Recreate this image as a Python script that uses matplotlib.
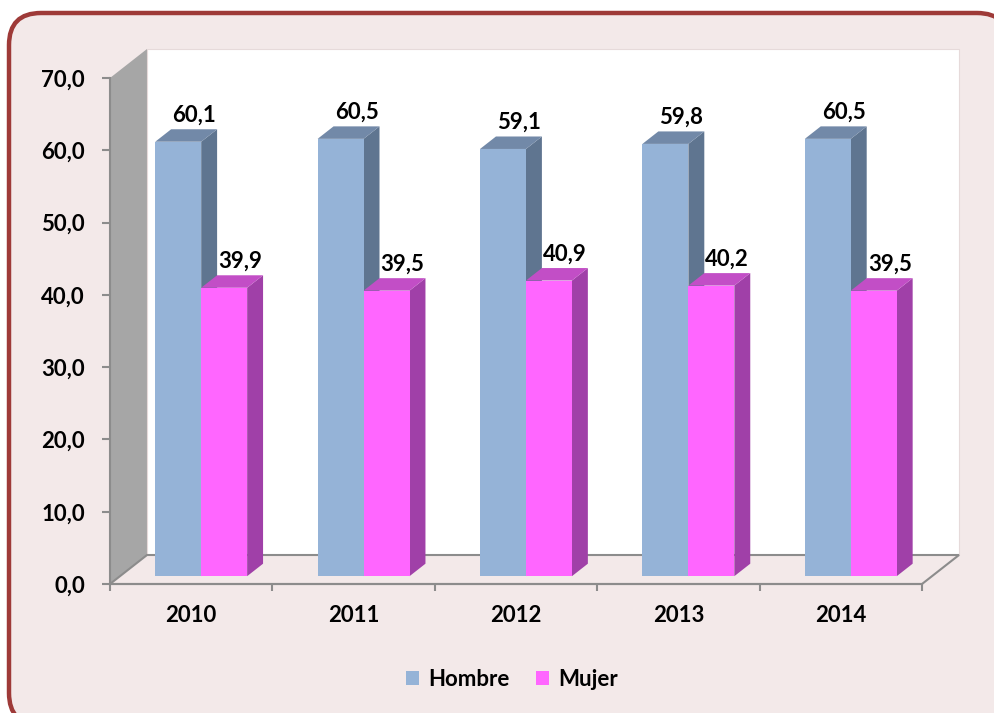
import matplotlib.pyplot as plt
from matplotlib.patches import Polygon, Rectangle, FancyBboxPatch, Patch
from matplotlib.ticker import FuncFormatter

years = ["2010", "2011", "2012", "2013", "2014"]
hombre = [60.1, 60.5, 59.1, 59.8, 60.5]
mujer = [39.9, 39.5, 40.9, 40.2, 39.5]
series_names = ["Hombre", "Mujer"]

plt.rcParams["font.family"] = ["Lato", "DejaVu Sans"]
plt.rcParams["font.weight"] = "bold"

bg = "#F3E9E9"
edge = "#8C8C8C"
front_cols = ["#95B3D7", "#FF66FF"]
side_cols = ["#5F7590", "#A040A8"]
top_cols = ["#7289A8", "#C24EC6"]

fig = plt.figure(figsize=(9.95, 7.13), dpi=100)
fig.patch.set_facecolor("white")

# rounded outer frame (pixel coords, runs off the right and bottom edges)
frame = FancyBboxPatch((9, -12), 1000, 713 - 13 + 12,
                       boxstyle="round,pad=0,rounding_size=32",
                       transform=None, facecolor=bg,
                       edgecolor="#9E3A38", linewidth=3.2, zorder=0)
fig.add_artist(frame)

ax = fig.add_axes([110 / 995, (713 - 584) / 713, 812 / 995, 506 / 713])
ax.set_facecolor("none")
ax.set_xlim(-0.5, 4.5)
ax.set_ylim(0, 70)

# depth offsets (fraction of one category / value units)
Dx = 37 / 162.4
Dy = 29 / (506 / 70)
x0, x1 = -0.5, 4.5

# side wall, back wall, floor
ax.add_patch(Polygon([(x0, 0), (x0, 70), (x0 + Dx, 70 + Dy), (x0 + Dx, Dy)],
                     closed=True, facecolor="#A6A6A6", edgecolor="none",
                     clip_on=False, zorder=1))
ax.add_patch(Rectangle((x0 + Dx, Dy), x1 - x0, 70, facecolor="white",
                       edgecolor="#E6DADA", linewidth=0.8, clip_on=False, zorder=1))
ax.add_patch(Polygon([(x0, 0), (x1, 0), (x1 + Dx, Dy), (x0 + Dx, Dy)],
                     closed=True, facecolor=bg, edgecolor=edge, linewidth=1.5,
                     clip_on=False, zorder=1))

# bars
w = 0.283
f1, f2 = 0.27, 0.70
for s, vals in enumerate([hombre, mujer]):
    for i, v in enumerate(vals):
        left = i - w + s * w + f1 * Dx
        right = left + w
        base = f1 * Dy
        ddx = (f2 - f1) * Dx
        ddy = (f2 - f1) * Dy
        ax.add_patch(Polygon([(right, base), (right + ddx, base + ddy),
                              (right + ddx, base + ddy + v), (right, base + v)],
                             closed=True, facecolor=side_cols[s], edgecolor="none",
                             clip_on=False, zorder=2 + s))
        ax.add_patch(Polygon([(left, base + v), (right, base + v),
                              (right + ddx, base + ddy + v), (left + ddx, base + ddy + v)],
                             closed=True, facecolor=top_cols[s], edgecolor="none",
                             clip_on=False, zorder=2 + s))
        ax.add_patch(Rectangle((left, base), w, v, facecolor=front_cols[s],
                               edgecolor="none", clip_on=False, zorder=2 + s))
        ax.text(left + w / 2 + ddx, base + ddy + v + 0.5,
                f"{v:.1f}".replace(".", ","), ha="center", va="bottom",
                fontsize=16, fontweight="bold", color="black", zorder=5)

# axes styling
for sp in ["top", "right"]:
    ax.spines[sp].set_visible(False)
for sp in ["left", "bottom"]:
    ax.spines[sp].set_color(edge)
    ax.spines[sp].set_linewidth(1.5)
    ax.spines[sp].set_zorder(4)

ax.set_yticks(range(0, 71, 10))
ax.yaxis.set_major_formatter(FuncFormatter(lambda v, p: f"{v:.1f}".replace(".", ",")))
ax.tick_params(axis="y", length=6, width=1.5, color=edge, pad=12, labelsize=16)

ax.set_xticks([x0 + k for k in range(6)])
ax.set_xticklabels([])
ax.set_xticks(range(len(years)), minor=True)
ax.set_xticklabels(years, minor=True)
ax.tick_params(axis="x", which="major", length=5, width=1.5, color=edge)
ax.tick_params(axis="x", which="minor", length=0, pad=15, labelsize=16)
for lab in ax.get_xticklabels(minor=True) + ax.get_yticklabels():
    lab.set_fontweight("bold")

handles = [Patch(facecolor=front_cols[k], edgecolor="none", label=series_names[k])
           for k in range(2)]
fig.legend(handles=handles, loc="center", bbox_to_anchor=(512 / 995, 1 - 679 / 713),
           ncol=2, frameon=False, prop={"size": 16, "weight": "bold"},
           handlelength=0.6, handleheight=0.6, handletextpad=0.4, columnspacing=1.2)

fig.savefig("out.png", dpi=100, facecolor=fig.get_facecolor())
